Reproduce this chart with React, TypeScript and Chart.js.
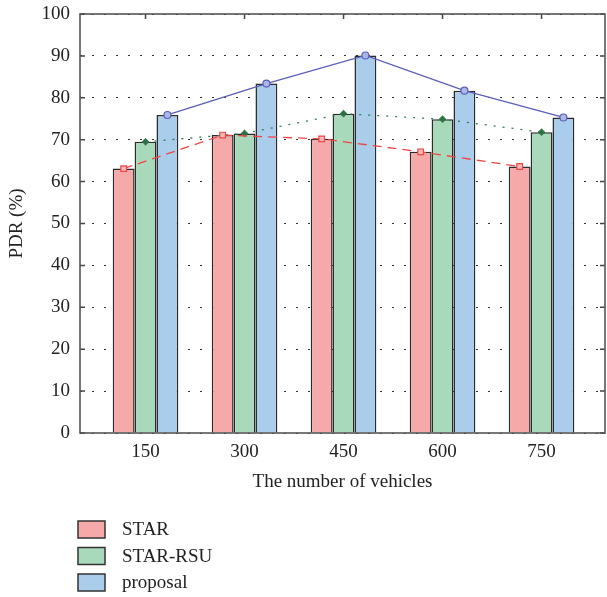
import React, { useEffect, useRef } from 'react';
import { Chart, registerables } from 'chart.js';

Chart.register(...registerables);

// ---- data ----
const categories = ['150', '300', '450', '600', '750'];
const seriesNames = ['STAR', 'STAR-RSU', 'proposal'];
const starValues = [63.1, 71.1, 70.2, 67.1, 63.6];
const starRsuValues = [69.5, 71.5, 76.2, 74.9, 71.8];
const proposalValues = [75.9, 83.4, 90.1, 81.7, 75.3];
const yTickValues = [0, 10, 20, 30, 40, 50, 60, 70, 80, 90, 100];

// ---- style ----
const FONT = '"Liberation Serif", "Times New Roman", serif';
const FONT_SIZE = 19;
const GROUP_PCT = 0.663;
const fillColors = ['#F5A9A9', '#A8D9BA', '#AACDEB'];
const lineColors = ['#F04545', '#2F7A4A', '#5B5EB8'];
const allValues = [starValues, starRsuValues, proposalValues];

const framePlugin = {
  id: 'frameAndLegend',
  beforeDatasetsDraw(chart: any) {
    const { ctx, chartArea: a, scales } = chart;
    ctx.save();
    ctx.strokeStyle = '#444';
    ctx.lineWidth = 1.5;
    const tl = 5;
    yTickValues.forEach((v) => {
      const y = scales.y.getPixelForValue(v);
      ctx.beginPath();
      ctx.moveTo(a.left, y);
      ctx.lineTo(a.left + tl, y);
      ctx.moveTo(a.right, y);
      ctx.lineTo(a.right - tl, y);
      ctx.stroke();
    });
    categories.forEach((_, i) => {
      const x = scales.x.getPixelForValue(i + 1);
      ctx.beginPath();
      ctx.moveTo(x, a.top);
      ctx.lineTo(x, a.top + tl);
      ctx.stroke();
    });
    ctx.restore();
  },
  afterDatasetsDraw(chart: any) {
    const { ctx, chartArea: a } = chart;
    ctx.save();
    ctx.strokeStyle = '#555';
    ctx.lineWidth = 1.6;
    ctx.strokeRect(a.left, a.top, a.right - a.left, a.bottom - a.top);
    ctx.restore();
  },
  afterDraw(chart: any) {
    const { ctx, chartArea: a } = chart;
    ctx.save();
    ctx.font = `${FONT_SIZE}px ${FONT}`;
    ctx.textBaseline = 'middle';
    ctx.textAlign = 'left';
    const x0 = a.left - 2;
    const yStart = 529.5;
    const rowH = 26.5;
    seriesNames.forEach((name, i) => {
      const cy = yStart + i * rowH;
      ctx.fillStyle = fillColors[i];
      ctx.fillRect(x0, cy - 8.5, 27, 17);
      ctx.strokeStyle = '#333';
      ctx.lineWidth = 1.5;
      ctx.strokeRect(x0, cy - 8.5, 27, 17);
      ctx.fillStyle = '#222';
      ctx.fillText(name, x0 + 44, cy + 1);
    });
    ctx.restore();
  },
};

export default function App() {
  const ref = useRef<HTMLCanvasElement | null>(null);

  useEffect(() => {
    if (!ref.current) return;
    const barSets = allValues.map((vals, k) => ({
      type: 'bar' as const,
      label: seriesNames[k],
      data: vals.map((v, i) => ({ x: i + 1, y: v })),
      backgroundColor: fillColors[k],
      borderColor: '#2a2a2a',
      borderWidth: 1.5,
      categoryPercentage: GROUP_PCT,
      barPercentage: 1,
      order: 2,
    }));
    const lineStyles = [
      { borderDash: [9, 6], pointStyle: 'rect', pointRadius: 4, pointBg: '#F8B8B8' },
      { borderDash: [2, 7], pointStyle: 'rectRot', pointRadius: 3, pointBg: '#2F6E45' },
      { borderDash: [], pointStyle: 'circle', pointRadius: 3.5, pointBg: '#A9B8E8' },
    ];
    const lineSets = allValues.map((vals, k) => ({
      type: 'line' as const,
      label: seriesNames[k] + ' line',
      data: vals.map((v, i) => ({ x: i + 1 + ((k - 1) * GROUP_PCT) / 3, y: v })),
      borderColor: lineColors[k],
      borderWidth: 1.3,
      borderDash: lineStyles[k].borderDash,
      pointStyle: lineStyles[k].pointStyle,
      pointRadius: lineStyles[k].pointRadius,
      pointBackgroundColor: lineStyles[k].pointBg,
      pointBorderColor: lineColors[k],
      pointBorderWidth: 1.2,
      fill: false,
      tension: 0,
      order: 0,
    }));

    const chart = new Chart(ref.current, {
      type: 'bar',
      data: { datasets: [...barSets, ...lineSets] as any },
      options: {
        responsive: false,
        animation: false,
        devicePixelRatio: 1,
        layout: { autoPadding: false, padding: { top: 14, right: 2, bottom: 100, left: 0 } },
        plugins: { legend: { display: false }, tooltip: { enabled: false } },
        scales: {
          x: {
            type: 'linear',
            offset: false,
            min: 0.338,
            max: 5.641,
            afterBuildTicks: (s: any) => {
              s.ticks = categories.map((_, i) => ({ value: i + 1 }));
            },
            afterFit: (s: any) => {
              s.height = 64;
              s.paddingLeft = 0;
              s.paddingRight = 0;
            },
            ticks: {
              autoSkip: false,
              padding: 0,
              maxRotation: 0,
              color: '#222',
              font: { family: FONT, size: FONT_SIZE },
              callback: (_v: any, i: number) => categories[i],
            },
            grid: { display: false, offset: false },
            border: { display: false },
            title: {
              display: true,
              text: 'The number of vehicles',
              color: '#222',
              font: { family: FONT, size: FONT_SIZE },
              padding: { top: 4, bottom: 4 },
            },
          },
          y: {
            min: 0,
            max: 100,
            afterFit: (s: any) => {
              s.width = 80;
              s.paddingTop = 0;
              s.paddingBottom = 0;
            },
            afterBuildTicks: (s: any) => {
              s.ticks = yTickValues.map((v) => ({ value: v }));
            },
            ticks: {
              padding: 10,
              color: '#222',
              font: { family: FONT, size: FONT_SIZE },
            },
            grid: { color: '#333', lineWidth: 1, drawTicks: false },
            border: { display: false, dash: [2, 10] },
            title: {
              display: true,
              text: 'PDR (%)',
              color: '#222',
              font: { family: FONT, size: FONT_SIZE },
              padding: { top: 6, bottom: 4 },
            },
          },
        },
      } as any,
      plugins: [framePlugin],
    });
    return () => chart.destroy();
  }, []);

  return (
    <div style={{ position: 'fixed', left: 0, top: 0, width: 607, height: 597, background: '#fff' }}>
      <canvas ref={ref} width={607} height={597} />
    </div>
  );
}
